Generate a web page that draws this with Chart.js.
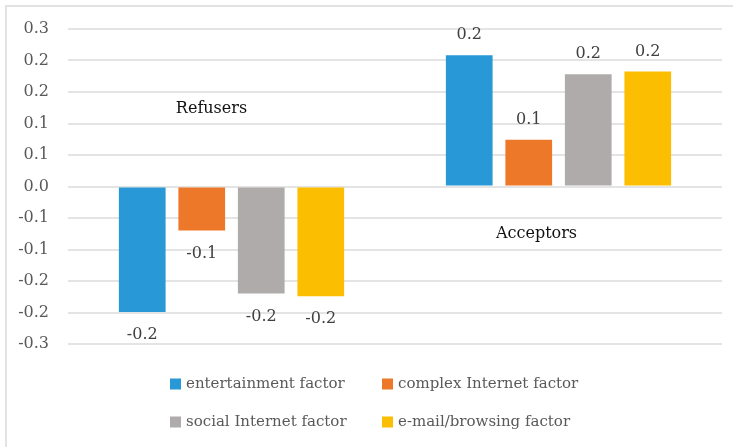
<!DOCTYPE html>
<html>
	<head>
		<title>Factor scores by group</title>
		<meta charset="utf-8">
		<script src="https://cdn.jsdelivr.net/npm/chart.js"></script>
		<style>
			body { margin: 0; background: #fff; }
			#wrap { position: relative; width: 733px; height: 447px; overflow: hidden; }
			#frame { position: absolute; left: 5px; top: 5px; width: 760px; height: 470px; border: 2px solid #e2e2e2; }
			#wrap canvas { position: absolute; left: 0; top: 0; }
		</style>
	</head>
	<body>

		<div id="wrap">
			<div id="frame"></div>
			<canvas id="scores"></canvas>
		</div>

		<script>

			// Groups and mean factor scores.
			const groups = ['Refusers', 'Acceptors'];
			const factorNames = ['entertainment factor', 'complex Internet factor', 'social Internet factor', 'e-mail/browsing factor'];
			const entertainment = [-0.239, 0.2499];
			const complexInternet = [-0.084, 0.089];
			const socialInternet = [-0.204, 0.214];
			const emailBrowsing = [-0.209, 0.219];
			// y axis runs -0.3 .. 0.3 in steps of 0.06, shown with one decimal
			const yMin = -0.3, yMax = 0.3, yStep = 0.06;
			const yTickLabels = ['-0.3', '-0.2', '-0.2', '-0.1', '-0.1', '0.0', '0.1', '0.1', '0.2', '0.2', '0.3'];

			const colors = ['#2899d6', '#ee7829', '#afabab', '#fbbe00'];
			const serif = '"DejaVu Serif", "Liberation Serif", serif';

			// Value written above / below each bar.
			const valueLabels = {
				id: 'valueLabels',
				afterDatasetsDraw(chart) {
					const ctx = chart.ctx;
					ctx.save();
					ctx.font = '16px ' + serif;
					ctx.fillStyle = '#404040';
					ctx.textAlign = 'center';
					ctx.textBaseline = 'middle';
					chart.data.datasets.forEach((ds, i) => {
						chart.getDatasetMeta(i).data.forEach((bar, j) => {
							const v = ds.data[j];
							const y = v >= 0 ? bar.y - 20 : bar.y + 23;
							ctx.fillText(v.toFixed(1), bar.x, y);
						});
					});
					ctx.restore();
				}
			};

			// Group names written inside the plot.
			const groupNotes = {
				id: 'groupNotes',
				afterDatasetsDraw(chart, args, opts) {
					const ctx = chart.ctx;
					const x = chart.scales.x, y = chart.scales.y;
					ctx.save();
					ctx.font = '16px ' + serif;
					ctx.fillStyle = '#111';
					ctx.textAlign = 'center';
					ctx.textBaseline = 'middle';
					opts.spots.forEach((s, i) => {
						ctx.fillText(groups[i], x.getPixelForValue(i) + s.dx, y.getPixelForValue(s.at));
					});
					ctx.restore();
				}
			};

			// Two-column legend under the plot.
			const gridLegend = {
				id: 'gridLegend',
				afterDraw(chart, args, opts) {
					const ctx = chart.ctx;
					ctx.save();
					ctx.font = '15px ' + serif;
					ctx.textBaseline = 'middle';
					ctx.textAlign = 'left';
					chart.data.datasets.forEach((ds, i) => {
						const cx = opts.cols[i % 2];
						const cy = opts.rows[Math.floor(i / 2)];
						ctx.fillStyle = ds.backgroundColor;
						ctx.fillRect(cx, cy - 5.5, 11, 11);
						ctx.fillStyle = '#595959';
						ctx.fillText(ds.label, cx + 16, cy);
					});
					ctx.restore();
				}
			};

			const series = [entertainment, complexInternet, socialInternet, emailBrowsing];

			new Chart(document.getElementById('scores'), {
				type: 'bar',
				data: {
					labels: groups,
					datasets: series.map((d, i) => ({
						label: factorNames[i],
						data: d,
						backgroundColor: colors[i],
						categoryPercentage: 0.728,
						barPercentage: 0.785
					}))
				},
				options: {
					responsive: true,
					maintainAspectRatio: false,
					animation: false,
					layout: { padding: { left: 6, right: 11, top: 29, bottom: 103 } },
					scales: {
						x: {
							display: false
						},
						y: {
							min: yMin,
							max: yMax,
							afterFit(scale) { scale.width = 62; },
							border: { display: false },
							grid: { color: '#e4e4e4', lineWidth: 2, drawTicks: false },
							ticks: {
								stepSize: yStep,
								padding: 19,
								color: '#595959',
								font: { family: serif, size: 16 },
								callback: (v) => yTickLabels[Math.round((v - yMin) / yStep)]
							}
						}
					},
					plugins: {
						legend: { display: false },
						tooltip: { enabled: false },
						groupNotes: { spots: [{ dx: -20, at: 0.148 }, { dx: -22, at: -0.091 }] },
						gridLegend: { cols: [170, 382], rows: [384, 422] }
					}
				},
				plugins: [valueLabels, groupNotes, gridLegend]
			});

		</script>

	</body>
</html>
